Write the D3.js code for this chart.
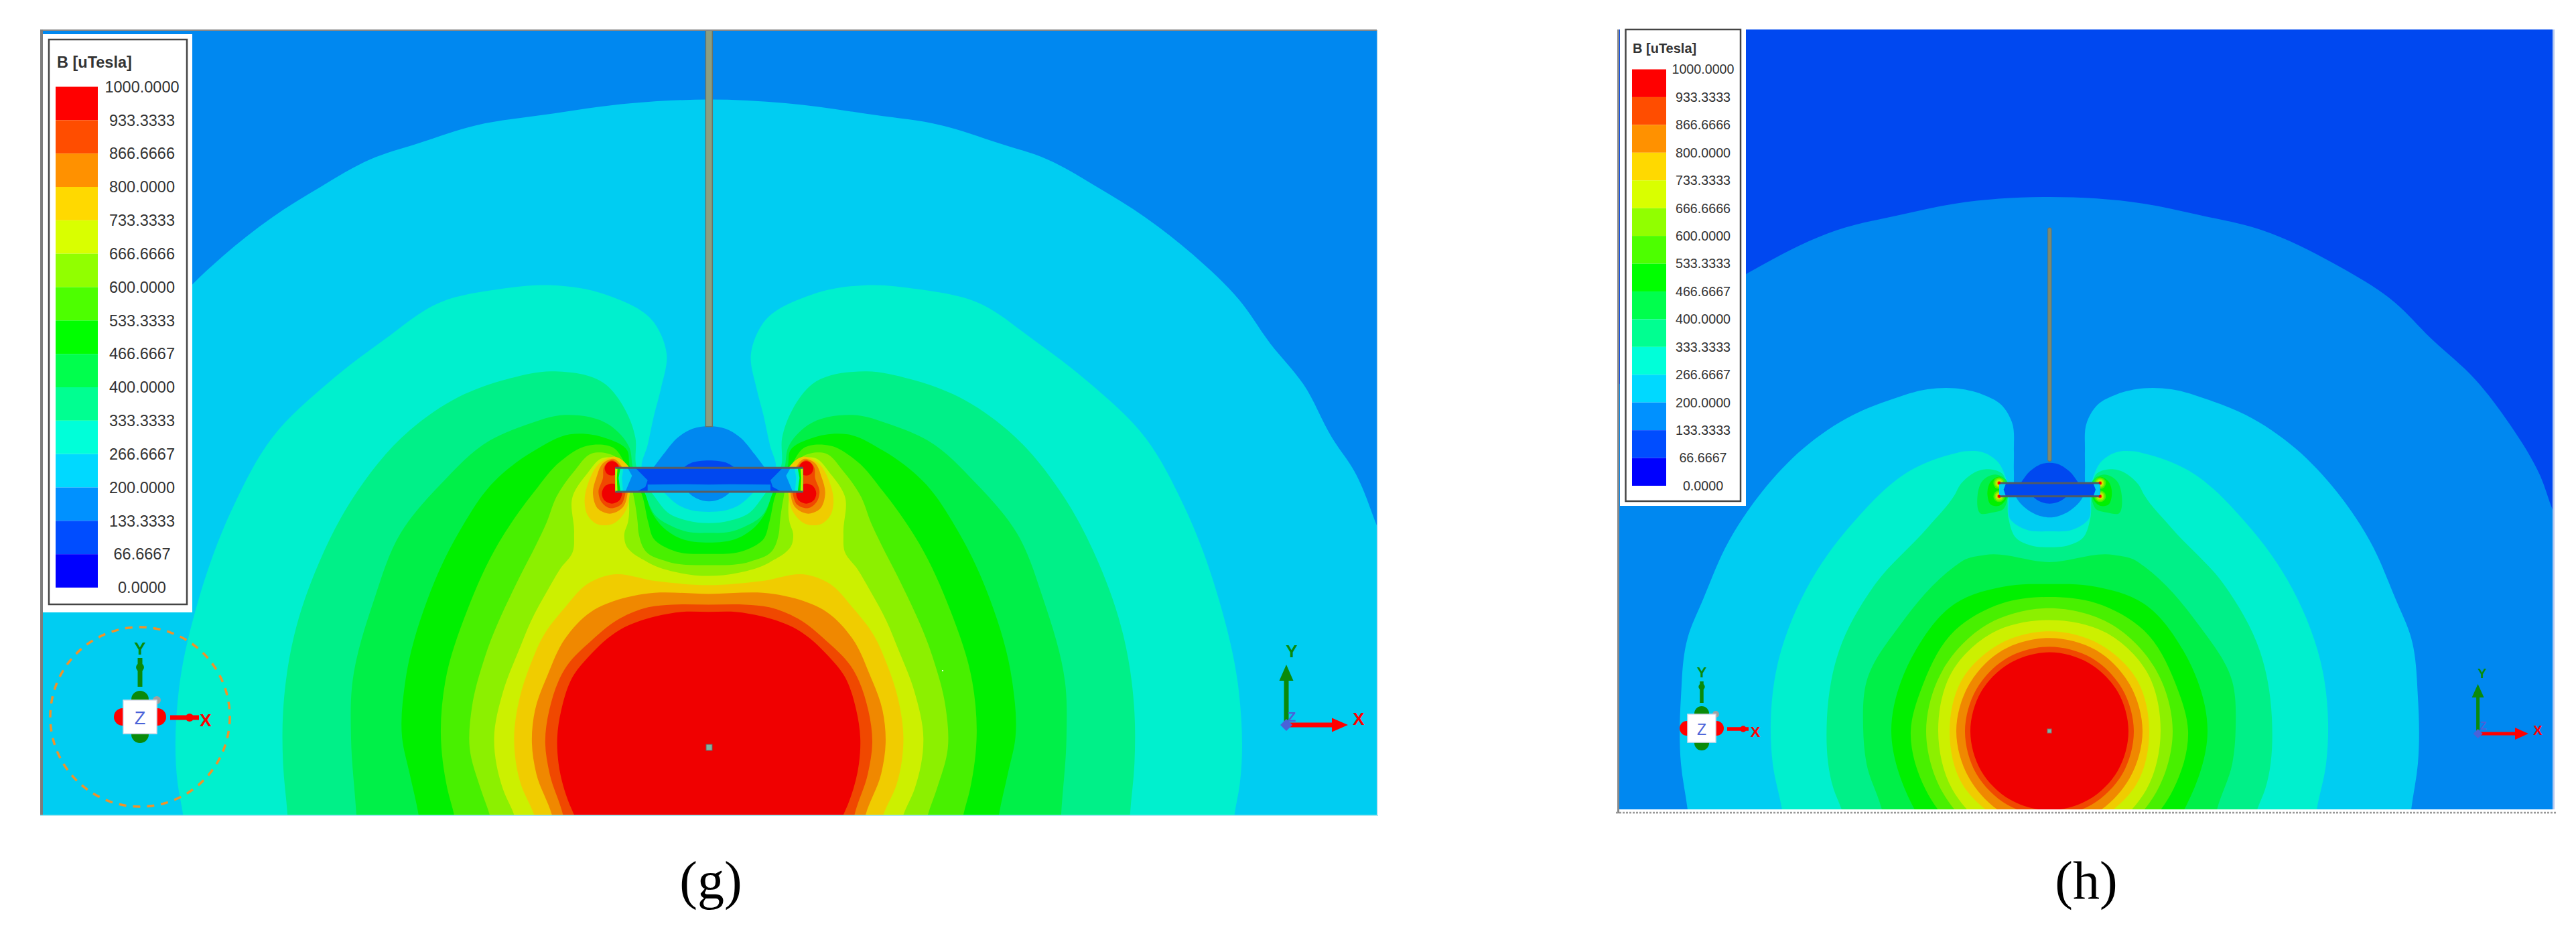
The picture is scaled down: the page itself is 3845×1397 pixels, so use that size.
<!DOCTYPE html>
<html><head><meta charset="utf-8">
<style>html,body{margin:0;padding:0;background:#fff}svg{display:block}text{font-family:"Liberation Sans",Arial,sans-serif}</style>
<script src="https://cdnjs.cloudflare.com/ajax/libs/d3/7.8.5/d3.min.js"></script>
</head><body><svg id="c" width="3845" height="1397"></svg>
<script>
// ---------- legend ----------
const legendTitle = "B [uTesla]";
const legendLabels = ["1000.0000","933.3333","866.6666","800.0000","733.3333","666.6666","600.0000","533.3333","466.6667","400.0000","333.3333","266.6667","200.0000","133.3333","66.6667","0.0000"];
const legendColors = ["#ff0000","#ff4d00","#ff9100","#ffd900","#d9ff00","#91ff00","#4dff00","#00ff00","#00ff4d","#00ff91","#00ffd9","#00d9ff","#0091ff","#004dff","#0000ff"];
const captions = ["(g)","(h)"];
// field colours (same ramp, rendered slightly darker)
const F = {red:"#f00000",o1:"#f04800",o2:"#f08800",y1:"#f0cc00",y2:"#ccf000",g1:"#8cf000",g2:"#48f000",g3:"#00f000",g4:"#00f048",g5:"#00f088",t:"#00f0ce",c:"#00cdf2",b1:"#0088f0",b2:"#0048f0"};

// ---------- panel (g): half-contours, axis -> bottom (x: 27 = axis) ----------
const gCyan=[[27,155],[200,162],[400,185],[550,205],[680,240],[790,272],[900,325],[1010,385],[1120,460],[1220,545],[1290,630],[1365,710],[1430,815],[1480,880],[1530,985],[1620,1200],[1640,1750]];
const gTeal=[[27,959],[65,956],[95,946],[127,922],[178,872],[165,830],[150,770],[135,720],[122,650],[150,590],[260,535],[380,517],[500,525],[630,550],[760,625],[880,705],[1010,815],[1095,945],[1175,1130],[1220,1310],[1222,1490],[1210,1550],[1200,1750]];
const gG5=[[27,981],[75,976],[115,963],[150,928],[190,870],[192,815],[215,760],[260,710],[380,685],[480,700],[590,735],[700,800],[830,935],[905,1060],[960,1200],[985,1350],[985,1450],[975,1550],[970,1750]];
const gG4=[[27,1000],[75,998],[105,989],[145,968],[170,928],[198,872],[205,835],[250,790],[350,770],[440,790],[520,820],[630,905],[720,1000],[780,1130],[830,1300],[832,1400],[820,1550],[810,1750]];
const gG3=[[27,1019],[93,1010],[130,989],[155,960],[170,924],[205,870],[210,840],[260,815],[340,808],[420,840],[510,900],[590,1000],[660,1130],[710,1290],[717,1400],[700,1470],[680,1550],[670,1750]];
const gG2=[[27,1041],[109,1034],[152,1010],[163,980],[178,924],[212,870],[240,835],[300,830],[360,860],[420,920],[500,1020],[570,1150],[620,1290],[630,1390],[615,1500],[600,1550],[590,1750]];
const gG1=[[27,1063],[120,1056],[168,1037],[185,1000],[187,980],[195,933],[216,870],[240,850],[290,845],[330,880],[370,930],[392,980],[416,1024],[452,1085],[530,1240],[560,1340],[565,1420],[540,1500],[520,1550],[505,1750]];
const gY2=[[27,1084],[93,1078],[163,1058],[215,1020],[217,1002],[209,980],[208,924],[223,859],[266,854],[301,885],[333,928],[330,1000],[333,1037],[362,1071],[389,1111],[427,1172],[452,1224],[490,1310],[510,1400],[490,1500],[465,1550],[450,1750]];
const gY1=[[27,1102],[146,1094],[249,1082],[297,1098],[351,1146],[400,1202],[427,1254],[452,1320],[465,1400],[450,1490],[420,1550],[405,1750]];
const gO2=[[27,1119],[173,1119],[222,1128],[292,1154],[351,1207],[389,1276],[418,1346],[425,1410],[415,1470],[380,1550],[370,1750]];
const gO1=[[27,1140],[109,1140],[163,1145],[227,1167],[292,1211],[346,1259],[386,1346],[395,1410],[385,1470],[355,1550],[345,1750]];
const gRed=[[27,1154],[87,1154],[147,1163],[227,1189],[297,1241],[330,1276],[359,1346],[368,1400],[365,1450],[340,1530],[330,1550],[320,1750]];

// panel (g): detail round the plate (x: 775 = axis)
const gBlobY1=[[218,600],[235,510],[290,420],[355,395],[415,440],[420,560],[400,640],[345,695],[270,695],[228,650]];
const gBlobO2=[[255,560],[270,490],[305,420],[350,405],[385,440],[410,560],[390,620],[330,650],[280,630]];
const gBlobO1=[[280,555],[300,490],[305,440],[340,410],[375,435],[400,560],[380,610],[330,625],[295,600]];
const gBlobRedA=[[340,415],[363,425],[372,447],[363,470],[340,479],[317,470],[308,447],[317,425]];
const gBlobRedB=[[340,515],[372,528],[385,560],[372,592],[340,605],[308,592],[295,560],[308,528]];
const gDome=[[775,258],[700,270],[640,305],[570,385],[525,445],[490,490],[775,490]];
const gDomeIn=[[775,412],[730,415],[690,425],[660,445],[640,470],[775,470]];
const gArc=[[775,595],[720,582],[680,552],[660,520],[775,520]];
const gPlateTop=445, gPlateBot=552, gPlateEnd=355, gAxisZ=775, gRodW=[760,790], gRodEnd=260;
const gInLow=[[775,520],[680,518],[500,520],[500,552],[775,552]];
const gInB=[[355,445],[445,445],[500,500],[490,530],[450,552],[355,552]];
const gInC=[[355,445],[410,445],[430,480],[400,552],[355,552]];
const gInT=[[355,445],[392,445],[385,490],[390,552],[355,552]];
const gInG=[[355,445],[378,445],[370,490],[378,552],[355,552]];
const gInY=[[355,445],[365,445],[362,490],[365,552],[355,552]];

// ---------- panel (h): half-contours (x: distance from axis) ----------
const hBlue=[[0,345],[141,358],[223,380],[318,410],[425,475],[515,550],[569,620],[635,700],[688,790],[733,890],[751,955],[820,1130],[860,1750]];
const hCyan=[[0,970],[29,958],[49,932],[53,880],[53,841],[56,784],[72,750],[100,730],[141,718],[182,720],[236,740],[293,770],[367,835],[429,920],[478,1015],[517,1130],[540,1205],[550,1320],[550,1450],[540,1540],[530,1750]];
const hTeal=[[0,997],[36,993],[59,972],[61,932],[66,889],[76,863],[99,843],[126,841],[141,845],[203,875],[293,980],[363,1110],[408,1270],[416,1370],[413,1450],[399,1540],[385,1750]];
const hG5=[[0,1028],[29,1024],[49,1011],[61,972],[63,928],[71,884],[96,876],[133,906],[141,925],[182,990],[260,1100],[314,1230],[332,1360],[322,1500],[310,1540],[300,1750]];
const hG4=[[0,1057],[96,1043],[129,1054],[141,1065],[223,1180],[273,1290],[278,1380],[273,1450],[250,1540],[235,1750]];
const hG3=[[0,1100],[60,1103],[141,1138],[200,1230],[236,1387],[205,1530],[150,1630],[0,1680]];
const hG2=[[0,1125],[70,1137],[141,1190],[190,1300],[207,1387],[185,1500],[130,1590],[0,1650]];
const hG1=[[0,1147],[92,1178],[159,1267],[184,1387],[159,1507],[92,1596],[0,1627]];
const hY2=[[0,1170],[85,1195],[145,1270],[166,1387],[145,1500],[85,1580],[0,1605]];
const hY1=[[0,1192],[75,1217],[130,1285],[149,1387],[130,1490],[75,1557],[0,1582]];
const hO2=[[0,1205],[70,1229],[120,1296],[139,1387],[120,1478],[70,1546],[0,1569]];
const hO1=[[0,1222],[63,1244],[109,1305],[126,1387],[109,1470],[63,1530],[0,1552]];
const hRed=[[0,1233],[59,1254],[102,1310],[118,1387],[102,1464],[59,1520],[0,1541]];
// panel (h): detail round the plate (x: 628 = axis)
const hBlobG4=[[305,420],[330,350],[385,325],[430,345],[440,430],[420,480],[370,495],[320,500]];
const hBlobG3=[[350,420],[370,350],[405,335],[430,370],[430,440],[400,465],[365,460]];
const hDome=[[628,272],[600,275],[540,310],[497,365],[475,395],[628,395]];
const hArc=[[628,455],[590,448],[553,422],[540,400],[628,400]];
const hDotY=[363,422], hDotX=402, hPlateEnd=402, hAxisZ=628, hRodW=[620,636], hRodEnd=265;
const hDotRadii=[[26,F.g2],[20,F.g1],[14,F.y2],[9,F.o2],[5,F.red]];
const hInC=[[402,365],[432,365],[422,392],[432,422],[402,422]];

// ---------- scales ----------
const svg=d3.select("#c");
const gx=d3.scaleLinear().domain([0,1568]).range([1040,2080]);
const gy=d3.scaleLinear().domain([0,1568]).range([30,1230]);
const gzx=d3.scaleLinear().domain([0,1500]).range([800,1300]);
const gzy=d3.scaleLinear().domain([0,900]).range([550,850]);
const hx=d3.scaleLinear().domain([-1000,1000]).range([3059-1000,3059+1000]);
const hy=gy;
const hzx=d3.scaleLinear().domain([0,1200]).range([2850,3250]);
const hzy=d3.scaleLinear().domain([0,750]).range([600,850]);

const defs=svg.append("defs");
defs.append("clipPath").attr("id","cg").append("rect").attr("x",62).attr("y",45).attr("width",1993).attr("height",1171);
defs.append("clipPath").attr("id","ch").append("rect").attr("x",2417).attr("y",44).attr("width",1393).attr("height",1164);

function mirrorClosed(half,axis){
  const m=half.slice().reverse().map(p=>[2*axis-p[0],p[1]]);
  return half.concat(m.filter(p=>p[0]!==axis));
}
const smooth=(sx,sy)=>d3.line().x(d=>sx(d[0])).y(d=>sy(d[1])).curve(d3.curveCatmullRomClosed.alpha(1));
const straight=(sx,sy)=>d3.line().x(d=>sx(d[0])).y(d=>sy(d[1])).curve(d3.curveLinearClosed);
function sym(g,pts,axis,fill,gen){g.append("path").attr("d",gen(mirrorClosed(pts,axis))).attr("fill",fill);}
function both(g,pts,axis,fill,gen){
  g.append("path").attr("d",gen(pts)).attr("fill",fill);
  g.append("path").attr("d",gen(pts.map(p=>[2*axis-p[0],p[1]]))).attr("fill",fill);
}

// ---------- panel (g) ----------
const pg=svg.append("g").attr("clip-path","url(#cg)");
pg.append("rect").attr("x",62).attr("y",45).attr("width",1993).attr("height",1171).attr("fill",F.b1);
const gLine=smooth(gx,gy);
[[gCyan,F.c],[gTeal,F.t],[gG5,F.g5],[gG4,F.g4],[gG3,F.g3],[gG2,F.g2],[gG1,F.g1],[gY2,F.y2],[gY1,F.y1],[gO2,F.o2],[gO1,F.o1],[gRed,F.red]]
  .forEach(([pts,col])=>sym(pg,pts,27,col,gLine));
const gzS=smooth(gzx,gzy), gzL=straight(gzx,gzy);
[[gBlobY1,F.y1],[gBlobO2,F.o2],[gBlobO1,F.o1],[gBlobRedA,F.red],[gBlobRedB,F.red]].forEach(([pts,col])=>both(pg,pts,gAxisZ,col,gzS));
sym(pg,gDome,gAxisZ,F.b1,gzS); sym(pg,gDomeIn,gAxisZ,F.b2,gzS); sym(pg,gArc,gAxisZ,F.b1,gzS);
// plate
pg.append("rect").attr("x",gzx(gPlateEnd)).attr("y",gzy(gPlateTop)).attr("width",gzx(2*gAxisZ-gPlateEnd)-gzx(gPlateEnd)).attr("height",gzy(gPlateBot)-gzy(gPlateTop)).attr("fill",F.b2);
sym(pg,gInLow,gAxisZ,F.b1,gzL);
[[gInB,F.b1],[gInC,F.c],[gInT,F.t],[gInG,F.g3],[gInY,F.y2]].forEach(([pts,col])=>both(pg,pts,gAxisZ,col,gzL));
[gPlateTop,gPlateBot].forEach(v=>pg.append("line").attr("x1",gzx(gPlateEnd)).attr("x2",gzx(2*gAxisZ-gPlateEnd)).attr("y1",gzy(v)).attr("y2",gzy(v)).attr("stroke","#565e64").attr("stroke-width",3));
// rod + centre point
pg.append("rect").attr("x",gzx(gRodW[0])).attr("width",gzx(gRodW[1])-gzx(gRodW[0])).attr("y",45).attr("height",gzy(gRodEnd)-45).attr("fill","#8a9e82").attr("stroke","#6a7468").attr("stroke-width",1.5);
pg.append("rect").attr("x",1054).attr("y",1111).attr("width",9).attr("height",9).attr("fill","#7fb3a0").attr("stroke","#666").attr("stroke-width",1);
pg.append("rect").attr("x",1406).attr("y",1000).attr("width",2).attr("height",2).attr("fill","#dfffe0");

// frame g
svg.append("rect").attr("x",60).attr("y",44).attr("width",1995).attr("height",2).attr("fill","#888");
svg.append("rect").attr("x",60).attr("y",44).attr("width",4).attr("height",1173).attr("fill","#7d7d7d");
svg.append("rect").attr("x",2055).attr("y",45).attr("width",2).attr("height",1172).attr("fill","#cfe6f2");
svg.append("rect").attr("x",60).attr("y",1216).attr("width",1997).attr("height",2).attr("fill","#a8e8f0");

// ---------- panel (h) ----------
const ph=svg.append("g").attr("clip-path","url(#ch)");
ph.append("rect").attr("x",2417).attr("y",44).attr("width",1393).attr("height",1164).attr("fill",F.b2);
const hLine=smooth(hx,hy);
[[hBlue,F.b1],[hCyan,F.c],[hTeal,F.t],[hG5,F.g5],[hG4,F.g4],[hG3,F.g3],[hG2,F.g2],[hG1,F.g1],[hY2,F.y2],[hY1,F.y1],[hO2,F.o2],[hO1,F.o1],[hRed,F.red]]
  .forEach(([pts,col])=>sym(ph,pts,0,col,hLine));
const hzS=smooth(hzx,hzy), hzL=straight(hzx,hzy);
both(ph,hBlobG4,hAxisZ,F.g4,hzS);
both(ph,hBlobG3,hAxisZ,F.g3,hzS);
[hDotX,2*hAxisZ-hDotX].forEach(cx=>hDotY.forEach(cy=>hDotRadii.forEach(([r,col])=>{
  ph.append("circle").attr("cx",hzx(cx)).attr("cy",hzy(cy)).attr("r",hzx(r)-hzx(0)).attr("fill",col);
})));
sym(ph,hDome,hAxisZ,F.b2,hzS); sym(ph,hArc,hAxisZ,F.b2,hzS);
ph.append("rect").attr("x",hzx(hPlateEnd)).attr("y",hzy(hDotY[0])).attr("width",hzx(2*hAxisZ-hPlateEnd)-hzx(hPlateEnd)).attr("height",hzy(hDotY[1])-hzy(hDotY[0])).attr("fill",F.b2);
both(ph,hInC,hAxisZ,F.c,hzL);
hDotY.forEach(v=>ph.append("line").attr("x1",hzx(hPlateEnd)).attr("x2",hzx(2*hAxisZ-hPlateEnd)).attr("y1",hzy(v)).attr("y2",hzy(v)).attr("stroke","#4f5a66").attr("stroke-width",3));
[hDotX,2*hAxisZ-hDotX].forEach(cx=>hDotY.forEach(cy=>ph.append("circle").attr("cx",hzx(cx)).attr("cy",hzy(cy)).attr("r",2).attr("fill",F.red)));
ph.append("rect").attr("x",hzx(hRodW[0])).attr("width",hzx(hRodW[1])-hzx(hRodW[0])).attr("y",340).attr("height",hzy(hRodEnd)-340).attr("rx",2).attr("fill","#7e8a70").attr("stroke","#6a7468").attr("stroke-width",1);
ph.append("rect").attr("x",3056).attr("y",1088).attr("width",6).attr("height",6).attr("fill","#7fb3a0").attr("stroke","#777").attr("stroke-width",1);

// frame h
svg.append("rect").attr("x",2414).attr("y",44).attr("width",3).attr("height",1170).attr("fill","#8a8a8a");
svg.append("rect").attr("x",3810).attr("y",44).attr("width",3).attr("height",1164).attr("fill","#b4c8f0");
svg.append("line").attr("x1",2412).attr("x2",3815).attr("y1",1213).attr("y2",1213).attr("stroke","#999").attr("stroke-width",2.5).attr("stroke-dasharray","3 2");

// ---------- legends ----------
function legend(o){
  const g=svg.append("g");
  g.append("rect").attr("x",o.box[0]).attr("y",o.box[1]).attr("width",o.box[2]-o.box[0]).attr("height",o.box[3]-o.box[1]).attr("fill","#fff");
  g.append("rect").attr("x",o.inner[0]).attr("y",o.inner[1]).attr("width",o.inner[2]-o.inner[0]).attr("height",o.inner[3]-o.inner[1]).attr("fill","#fff").attr("stroke","#444").attr("stroke-width",2.5);
  const ly=d3.scaleLinear().domain([0,1000]).range([o.y0,o.y1]);
  const vals=legendLabels.map(parseFloat);
  legendColors.forEach((c,i)=>g.append("rect").attr("x",o.sx[0]).attr("width",o.sx[1]-o.sx[0]).attr("y",ly(vals[i])).attr("height",ly(vals[i+1])-ly(vals[i])).attr("fill",c));
  g.selectAll("text.l").data(legendLabels).join("text").attr("class","l").attr("x",o.lx).attr("y",d=>ly(parseFloat(d))).attr("dy","0.35em").attr("text-anchor","middle").attr("font-size",o.fs).attr("fill","#333").text(d=>d);
  g.append("text").attr("x",o.tx).attr("y",o.ty).attr("dy","0.35em").attr("font-size",o.tfs).attr("font-weight","bold").attr("fill","#333").text(legendTitle);
}
legend({box:[64,51,287,914],inner:[73,59,279,902],y0:877,y1:129.5,sx:[83,146],lx:212,fs:23.5,tx:85,ty:93,tfs:23.5});
legend({box:[2418,44,2606,755],inner:[2426.5,44,2598,748],y0:725,y1:103.5,sx:[2436,2487],lx:2542,fs:19.7,tx:2437,ty:72,tfs:20});

// ---------- axis triads ----------
const green="#0a8a0a", redA="#ff0000", blueZ="#4a62d8";
function gizmo(o){
  const g=svg.append("g");
  if(o.ring) g.append("circle").attr("cx",o.cx).attr("cy",o.cy).attr("r",o.ring).attr("fill","none").attr("stroke","#f0922a").attr("stroke-width",3.5).attr("stroke-dasharray","11 10");
  [-1,1].forEach(s=>{
    g.append("circle").attr("cx",o.cx+s*(o.bs+1)).attr("cy",o.cy).attr("r",o.rs).attr("fill",redA);
    g.append("circle").attr("cx",o.cx).attr("cy",o.cy+s*(o.bs+1)).attr("r",o.rs).attr("fill",green);
  });
  g.append("circle").attr("cx",o.cx+o.bs).attr("cy",o.cy-o.bs).attr("r",o.bs*.24).attr("fill","#a0a0a0");
  g.append("rect").attr("x",o.cx-o.bs).attr("y",o.cy-o.bs).attr("width",2*o.bs).attr("height",2*o.bs).attr("fill","#fff").attr("stroke","#d8dcea").attr("stroke-width",1.5);
  g.append("text").attr("x",o.cx).attr("y",o.cy+2).attr("dy","0.35em").attr("text-anchor","middle").attr("font-size",o.bs+2).attr("fill",blueZ).text("Z");
  // stubs
  g.append("line").attr("x1",o.cx).attr("x2",o.cx).attr("y1",o.cy-o.a0).attr("y2",o.cy-o.a1).attr("stroke",green).attr("stroke-width",o.w);
  g.append("circle").attr("cx",o.cx).attr("cy",o.cy-o.a2).attr("r",o.w*.85).attr("fill",green);
  g.append("line").attr("x1",o.cx+o.a0).attr("x2",o.cx+o.a1).attr("y1",o.cy+1).attr("y2",o.cy+1).attr("stroke",redA).attr("stroke-width",o.w);
  g.append("circle").attr("cx",o.cx+o.a2).attr("cy",o.cy+1).attr("r",o.w*.85).attr("fill",redA);
  g.append("text").attr("x",o.cx).attr("y",o.cy-o.a1-14).attr("dy","0.35em").attr("text-anchor","middle").attr("font-size",o.fs).attr("font-weight","bold").attr("fill",green).text("Y");
  g.append("text").attr("x",o.cx+o.a1+10).attr("y",o.cy+5).attr("dy","0.35em").attr("text-anchor","middle").attr("font-size",o.fs).attr("font-weight","bold").attr("fill",redA).text("X");
}
gizmo({cx:209,cy:1070,ring:134,rs:13,bs:25,a0:45,a1:88,a2:74,w:7,fs:26});
gizmo({cx:2540,cy:1087,rs:11,bs:21,a0:38,a1:70,a2:62,w:5.5,fs:22});

function triad(o){
  const g=svg.append("g");
  g.append("line").attr("x1",o.x).attr("x2",o.x).attr("y1",o.y).attr("y2",o.yTip+10).attr("stroke",o.cG).attr("stroke-width",o.w);
  g.append("path").attr("d",d3.line()([[o.x,o.yTip],[o.x-o.hw,o.yTip+o.hl],[o.x+o.hw,o.yTip+o.hl]])+"Z").attr("fill",o.cG);
  g.append("line").attr("x1",o.x).attr("x2",o.xTip-10).attr("y1",o.y).attr("y2",o.y).attr("stroke",redA).attr("stroke-width",o.w);
  g.append("path").attr("d",d3.line()([[o.xTip,o.y],[o.xTip-o.hl,o.y-o.hw],[o.xTip-o.hl,o.y+o.hw]])+"Z").attr("fill",redA);
  g.append("path").attr("d",d3.line()([[o.x-o.d,o.y],[o.x,o.y-o.d],[o.x+o.d,o.y],[o.x,o.y+o.d]])+"Z").attr("fill",blueZ);
  g.append("text").attr("x",o.x+8).attr("y",o.y-12).attr("dy","0.35em").attr("text-anchor","middle").attr("font-size",o.fs*.8).attr("font-weight","bold").attr("fill",blueZ).text("Z");
  g.append("text").attr("x",o.yLx).attr("y",o.yLy).attr("dy","0.35em").attr("text-anchor","middle").attr("font-size",o.fs).attr("font-weight","bold").attr("fill",o.cG).text("Y");
  g.append("text").attr("x",o.xLx).attr("y",o.xLy).attr("dy","0.35em").attr("text-anchor","middle").attr("font-size",o.fs).attr("font-weight","bold").attr("fill",redA).text("X");
}
triad({x:1920,y:1082,yTip:992,xTip:2012,hl:24,hw:10.5,w:7,d:9,fs:26,cG:green,yLx:1928,yLy:972,xLx:2028,xLy:1073});
triad({x:3698.6,y:1095,yTip:1021,xTip:3774,hl:20,hw:9,w:5,d:7,fs:20,cG:green,yLx:3705,yLy:1005,xLx:3788,xLy:1090});

// ---------- captions ----------
[[captions[0],1061],[captions[1],3114]].forEach(([t,x])=>svg.append("text").attr("x",x).attr("y",1341).attr("text-anchor","middle").attr("font-size",80).attr("fill","#000").style("font-family","'Liberation Serif',serif").text(t));
</script></body></html>
